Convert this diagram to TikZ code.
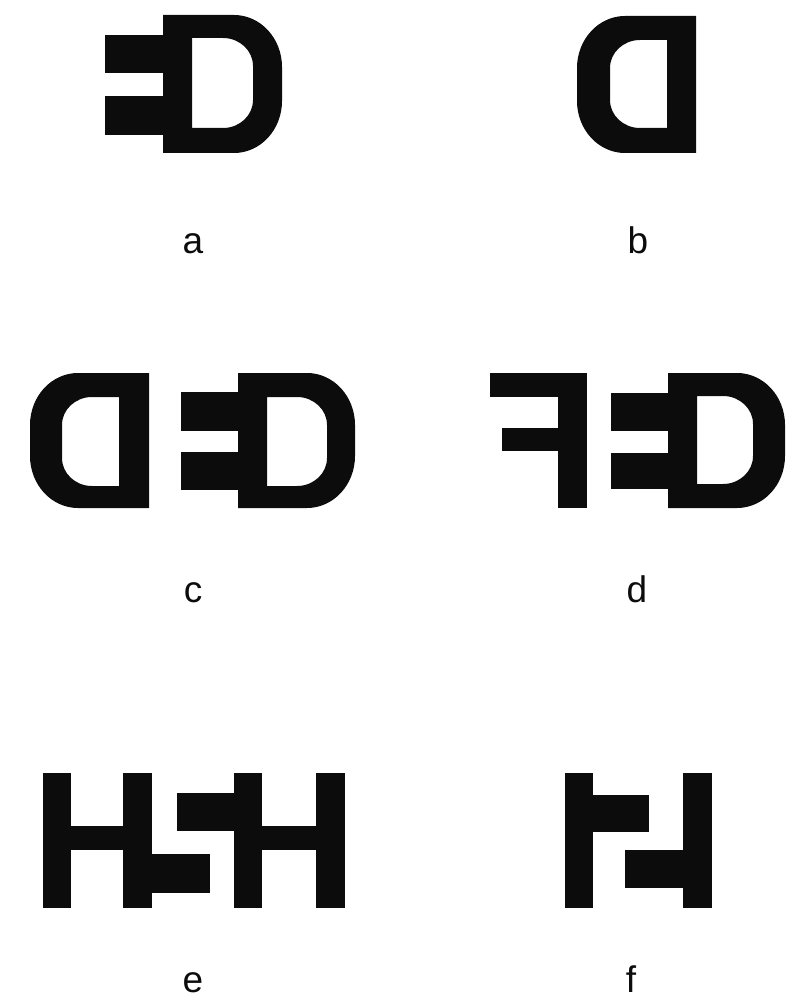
\documentclass[tikz,border=0pt]{standalone}
\usepackage{fontspec}
\setmainfont{Liberation Sans}
\definecolor{ink}{RGB}{12,12,12}
% right-facing D: #1 L, #2 T, #3 R, #4 B, #5 hl, #6 ht, #7 hr, #8 hb
\newcommand\DRight[8]{%
  \fill[ink,even odd rule] (#1,#2) -- ({#3-48},#2) arc[start angle=-90,end angle=0,x radius=48,y radius=52]
    -- (#3,{#4-52}) arc[start angle=0,end angle=90,x radius=48,y radius=52] -- (#1,#4) -- cycle
    (#5,#6) -- ({#7-30},#6) arc[start angle=-90,end angle=0,x radius=30,y radius=28]
    -- (#7,{#8-28}) arc[start angle=0,end angle=90,x radius=30,y radius=28] -- (#5,#8) -- cycle;}
% left-facing D
\newcommand\DLeft[8]{%
  \fill[ink,even odd rule] (#3,#2) -- ({#1+48},#2) arc[start angle=-90,end angle=-180,x radius=48,y radius=52]
    -- (#1,{#4-52}) arc[start angle=180,end angle=90,x radius=48,y radius=52] -- (#3,#4) -- cycle
    (#7,#6) -- ({#5+30},#6) arc[start angle=-90,end angle=-180,x radius=30,y radius=28]
    -- (#5,{#8-28}) arc[start angle=180,end angle=90,x radius=30,y radius=28] -- (#7,#8) -- cycle;}
\begin{document}
\begin{tikzpicture}[x=1pt,y=-1pt,
  lab/.style={anchor=base,inner sep=0pt,font=\fontsize{37}{40}\selectfont,text=ink},
  blk/.style={fill=ink}]
\useasboundingbox (0,0) rectangle (797,1003);
% a
\fill[blk] (105,35) rectangle (164,73);
\fill[blk] (105,96) rectangle (164,135);
\DRight{163}{15}{282}{153}{192}{38}{253}{128}
% b
\DLeft{577}{16}{696}{153}{610}{40}{667}{128}
% c
\DLeft{30}{373}{149}{508}{62}{397}{119}{486}
\fill[blk] (181,392) rectangle (239,431);
\fill[blk] (181,452) rectangle (239,490);
\DRight{238}{373}{355}{508}{267}{397}{327}{486}
% d
\fill[blk] (558,373) rectangle (587,508);
\fill[blk] (490,373) rectangle (587,397);
\fill[blk] (502,428) rectangle (559,451);
\fill[blk] (611,393) rectangle (669,431);
\fill[blk] (611,453) rectangle (669,489);
\DRight{668}{373}{785}{508}{697}{396}{753}{484}
% e
\fill[blk] (43,773) rectangle (71,908);
\fill[blk] (123,773) rectangle (152,908);
\fill[blk] (70,826) rectangle (124,850);
\fill[blk] (151,854) rectangle (210,893);
\fill[blk] (234,773) rectangle (262,908);
\fill[blk] (316,773) rectangle (345,908);
\fill[blk] (261,826) rectangle (317,850);
\fill[blk] (177,793) rectangle (235,831);
% f
\fill[blk] (565,773) rectangle (593,908);
\fill[blk] (592,795) rectangle (649,832);
\fill[blk] (683,773) rectangle (712,908);
\fill[blk] (625,850) rectangle (684,888);
% labels
\node[lab] (la) at (193,253) {a};
\node[lab] (lb) at (638,253) {b};
\node[lab] (lc) at (193,602) {c};
\node[lab] (ld) at (637,602) {d};
\node[lab] (le) at (193,992) {e};
\node[lab] (lf) at (631,992) {f};
\end{tikzpicture}
\end{document}
